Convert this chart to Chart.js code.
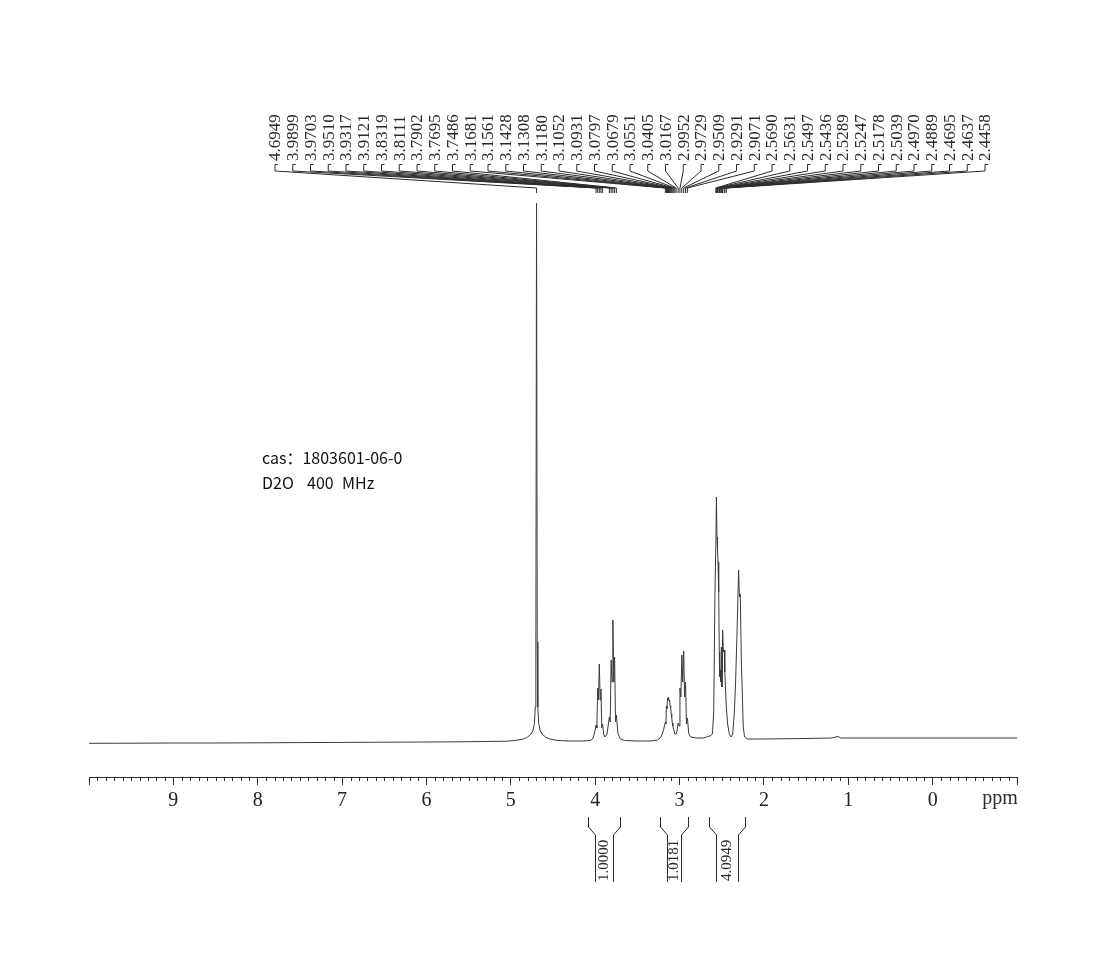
<!DOCTYPE html>
<html>
<head>
<meta charset="utf-8">
<title>1H NMR spectrum</title>
<script src="https://cdn.jsdelivr.net/npm/chart.js@4.4.1/dist/chart.umd.min.js"></script>
<style>
  body { margin: 0; background: #fff; }
  canvas { display: block; }
</style>
</head>
<body>
<canvas id="nmrChart" width="1101" height="976"></canvas>
<script>
// trace: chemical shift (ppm) and signal height (a.u.)
const shiftPpm = [
  10.0, 9.5, 9.0, 8.5, 8.0, 7.5, 7.0, 6.5, 6.0, 5.6, 5.3, 5.05, 4.95, 4.85, 4.8, 4.76, 4.735, 4.72, 4.71, 4.703,
  4.6949, 4.687, 4.68, 4.67, 4.655, 4.63, 4.59, 4.54, 4.44, 4.3, 4.15, 4.06, 4.03, 4.01,
  3.9899, 3.98, 3.9703, 3.961, 3.951, 3.941, 3.9317, 3.922, 3.9121, 3.9, 3.885, 3.86,
  3.8319, 3.822, 3.8111, 3.8, 3.7902, 3.78, 3.7695, 3.759, 3.7486, 3.73, 3.7, 3.65, 3.5, 3.35, 3.26, 3.22, 3.19,
  3.1681, 3.162, 3.1561, 3.15, 3.1428, 3.137, 3.1308, 3.124, 3.118, 3.111, 3.1052, 3.099, 3.0931, 3.086,
  3.0797, 3.0679, 3.0551, 3.0405, 3.03, 3.0167, 3.006, 2.9952, 2.984, 2.9729, 2.962, 2.9509, 2.94,
  2.9291, 2.918, 2.9071, 2.89, 2.87, 2.8, 2.72, 2.68, 2.64, 2.61, 2.595, 2.58,
  2.569, 2.5631, 2.556, 2.5497, 2.5436, 2.536, 2.5289, 2.5247, 2.5178, 2.51, 2.5039, 2.497, 2.4889, 2.48,
  2.4695, 2.4637, 2.4458, 2.43, 2.41, 2.39, 2.37, 2.35, 2.335, 2.318, 2.3, 2.29, 2.28, 2.268, 2.256, 2.245,
  2.229, 2.2, 2.0, 1.5, 1.2, 1.12, 1.09, 0.8, 0.0, -1.0
];
const signal = [
  -1.3, -1.2, -1, -1, -0.8, -0.6, -0.4, -0.2, 0, 0.2, 0.5, 0.8, 1.5, 3, 5, 8, 12, 19, 35, 100,
  539, 100, 35, 19, 12, 8, 5, 3, 1.5, 1, 1, 1.5, 3, 8,
  17, 14, 54, 42, 78, 42, 53, 14, 18, 8, 5, 8,
  25, 20, 82, 60, 122, 60, 85, 20, 27, 8, 3, 1.5, 1, 1, 2, 5, 12,
  20, 18, 36, 33, 44, 42, 45, 41, 42, 36, 34, 28, 25, 19,
  16, 12, 8, 8, 11, 19, 16, 54, 45, 87, 60, 91, 45,
  60, 18, 24, 8, 5, 4, 4, 5, 6, 8, 30, 150,
  200, 245, 205, 192, 180, 150, 90, 65, 72, 60, 95, 55, 112, 90,
  92, 70, 35, 18, 8, 5, 8, 30, 62, 112, 172, 145, 148, 82, 49, 15,
  5, 3, 3, 3.5, 4, 5.5, 4, 4, 4, 4
];

const peakPicks = [
  4.6949, 3.9899, 3.9703, 3.9510, 3.9317, 3.9121, 3.8319, 3.8111, 3.7902, 3.7695, 3.7486,
  3.1681, 3.1561, 3.1428, 3.1308, 3.1180, 3.1052, 3.0931, 3.0797, 3.0679, 3.0551, 3.0405,
  3.0167, 2.9952, 2.9729, 2.9509, 2.9291, 2.9071, 2.5690, 2.5631, 2.5497, 2.5436, 2.5289,
  2.5247, 2.5178, 2.5039, 2.4970, 2.4889, 2.4695, 2.4637, 2.4458
];

const integralFrom = [4.08, 3.23, 2.65];
const integralTo = [3.70, 2.90, 2.23];
const integralValues = ["1.0000", "1.0181", "4.0949"];

const tickLabels = ["9", "8", "7", "6", "5", "4", "3", "2", "1", "0"];

const serif = "'Liberation Serif', 'Times New Roman', serif";
const ink = "#2b2b2b";

const spectrumDecor = {
  id: "spectrumDecor",
  afterDraw(chart) {
    const ctx = chart.ctx;
    const xs = chart.scales.x;
    const axisY = chart.chartArea.bottom;

    ctx.save();
    ctx.strokeStyle = ink;
    ctx.fillStyle = ink;
    ctx.lineWidth = 1;

    // minor ticks, 0.1 ppm
    ctx.beginPath();
    for (let i = -10; i <= 100; i++) {
      if (i % 10 === 0) continue;
      const px = Math.round(xs.getPixelForValue(i / 10)) + 0.5;
      ctx.moveTo(px, axisY);
      ctx.lineTo(px, axisY + 4);
    }
    ctx.stroke();

    ctx.font = "20px " + serif;
    ctx.textAlign = "center";
    ctx.textBaseline = "top";
    ctx.fillText("ppm", 1000, axisY + 12);

    // peak picking labels and leader lines
    ctx.font = "17px " + serif;
    ctx.textAlign = "left";
    ctx.textBaseline = "middle";
    peakPicks.forEach((shift, i) => {
      const lx = 275 + i * 17.75;
      const px = xs.getPixelForValue(shift);
      ctx.save();
      ctx.translate(lx + 1, 161);
      ctx.rotate(-Math.PI / 2);
      ctx.fillText(shift.toFixed(4), 0, 0);
      ctx.restore();

      ctx.beginPath();
      ctx.moveTo(lx + 3, 164.5);
      ctx.lineTo(lx, 164.5);
      ctx.lineTo(lx, 171);
      ctx.lineTo(px, 188);
      ctx.lineTo(px, 193);
      ctx.stroke();
    });

    // integral brackets
    ctx.font = "15px " + serif;
    integralValues.forEach((value, i) => {
      const x1 = Math.round(xs.getPixelForValue(integralFrom[i])) + 0.5;
      const x2 = Math.round(xs.getPixelForValue(integralTo[i])) + 0.5;
      ctx.beginPath();
      ctx.moveTo(x1, 817);
      ctx.lineTo(x1, 827);
      ctx.lineTo(x1 + 7, 835);
      ctx.lineTo(x1 + 7, 882);
      ctx.moveTo(x2, 817);
      ctx.lineTo(x2, 827);
      ctx.lineTo(x2 - 7, 835);
      ctx.lineTo(x2 - 7, 882);
      ctx.stroke();

      ctx.save();
      ctx.translate((x1 + x2) / 2, 881);
      ctx.rotate(-Math.PI / 2);
      ctx.fillText(value, 0, 0);
      ctx.restore();
    });

    // sample notes
    ctx.fillStyle = "#111";
    ctx.font = "16px 'Noto Sans CJK SC', 'Noto Sans', sans-serif";
    ctx.textBaseline = "alphabetic";
    ctx.fillText("cas：1803601-06-0", 262, 464);
    ctx.fillText("D2O", 262, 489);
    ctx.fillText("400", 307, 489);
    ctx.fillText("MHz", 342, 489);

    ctx.restore();
  }
};

const points = shiftPpm.map((shift, i) => ({ x: shift, y: signal[i] }));

const nmrChart = new Chart(document.getElementById("nmrChart"), {
  type: "line",
  data: {
    datasets: [
      {
        data: points,
        borderColor: "#3a3a3a",
        borderWidth: 1,
        pointRadius: 0,
        tension: 0,
        fill: false,
      },
    ],
  },
  options: {
    responsive: false,
    animation: false,
    devicePixelRatio: 1,
    layout: {
      padding: { left: 89, right: 84, top: 200, bottom: 154 },
    },
    plugins: {
      legend: { display: false },
      tooltip: { enabled: false },
    },
    scales: {
      x: {
        type: "linear",
        reverse: true,
        min: -1,
        max: 10,
        afterFit: (scale) => {
          scale.height = 45;
        },
        border: { display: true, color: ink, width: 1 },
        grid: {
          drawOnChartArea: false,
          drawTicks: true,
          tickLength: 8,
          color: ink,
        },
        ticks: {
          stepSize: 1,
          autoSkip: false,
          maxRotation: 0,
          padding: 4,
          color: "#222",
          font: { family: serif, size: 20 },
          callback: (value) => (tickLabels.includes(String(value)) ? String(value) : ""),
        },
      },
      y: {
        display: false,
        min: -35,
        max: 542,
      },
    },
  },
  plugins: [spectrumDecor],
});
</script>
</body>
</html>
